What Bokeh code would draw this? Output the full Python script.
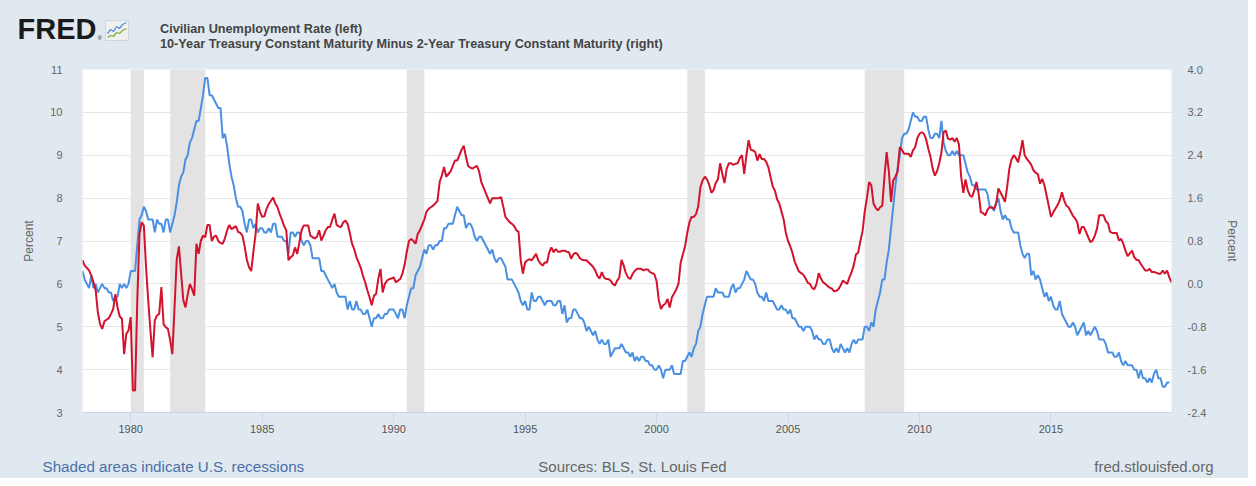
import numpy as np
from bokeh.plotting import figure
from bokeh.layouts import column
from bokeh.models import (Range1d, LinearAxis, FixedTicker, PrintfTickFormatter,
                          BoxAnnotation, Label, Legend, LegendItem)
from bokeh.embed import file_html
from bokeh.resources import INLINE

# ---------------- data (monthly, starting March 1978) ----------------
start_year, start_month = 1978, 3

# Civilian Unemployment Rate (%), Mar 1978 .. Jul 2019
unrate = [
    6.3, 6.1, 6.0, 5.9, 6.2, 5.9, 6.0, 5.8, 5.9, 6.0,                    # 1978
    5.9, 5.9, 5.8, 5.8, 5.6, 5.7, 5.7, 6.0, 5.9, 6.0, 5.9, 6.0,          # 1979
    6.3, 6.3, 6.3, 6.9, 7.5, 7.6, 7.8, 7.7, 7.5, 7.5, 7.5, 7.2,          # 1980
    7.5, 7.4, 7.4, 7.2, 7.5, 7.5, 7.2, 7.4, 7.6, 7.9, 8.3, 8.5,          # 1981
    8.6, 8.9, 9.0, 9.3, 9.4, 9.6, 9.8, 9.8, 10.1, 10.4, 10.8, 10.8,      # 1982
    10.4, 10.4, 10.3, 10.2, 10.1, 10.1, 9.4, 9.5, 9.2, 8.8, 8.5, 8.3,    # 1983
    8.0, 7.8, 7.8, 7.7, 7.4, 7.2, 7.5, 7.5, 7.3, 7.4, 7.2, 7.3,          # 1984
    7.3, 7.2, 7.2, 7.3, 7.2, 7.4, 7.4, 7.1, 7.1, 7.1, 7.0, 7.0,          # 1985
    6.7, 7.2, 7.2, 7.1, 7.2, 7.2, 7.0, 6.9, 7.0, 7.0, 6.9, 6.6,          # 1986
    6.6, 6.6, 6.6, 6.3, 6.3, 6.2, 6.1, 6.0, 5.9, 6.0, 5.8, 5.7,          # 1987
    5.7, 5.7, 5.7, 5.4, 5.6, 5.4, 5.4, 5.6, 5.4, 5.4, 5.3, 5.3,          # 1988
    5.4, 5.2, 5.0, 5.2, 5.2, 5.3, 5.2, 5.2, 5.3, 5.3, 5.4, 5.4,          # 1989
    5.4, 5.3, 5.2, 5.4, 5.4, 5.2, 5.5, 5.7, 5.9, 5.9, 6.2, 6.3,          # 1990
    6.4, 6.6, 6.8, 6.7, 6.9, 6.9, 6.8, 6.9, 6.9, 7.0, 7.0, 7.3,          # 1991
    7.3, 7.4, 7.4, 7.4, 7.6, 7.8, 7.7, 7.6, 7.6, 7.3, 7.4, 7.4,          # 1992
    7.3, 7.1, 7.0, 7.1, 7.1, 7.0, 6.9, 6.8, 6.7, 6.8, 6.6, 6.5,          # 1993
    6.6, 6.6, 6.5, 6.4, 6.1, 6.1, 6.1, 6.0, 5.9, 5.8, 5.6, 5.5,          # 1994
    5.6, 5.4, 5.4, 5.8, 5.6, 5.6, 5.7, 5.7, 5.6, 5.5, 5.6, 5.6,          # 1995
    5.6, 5.5, 5.5, 5.6, 5.6, 5.3, 5.5, 5.1, 5.2, 5.2, 5.4, 5.4,          # 1996
    5.3, 5.2, 5.2, 5.1, 4.9, 5.0, 4.9, 4.8, 4.9, 4.7, 4.6, 4.7,          # 1997
    4.6, 4.6, 4.7, 4.3, 4.4, 4.5, 4.5, 4.5, 4.6, 4.5, 4.4, 4.4,          # 1998
    4.3, 4.4, 4.2, 4.3, 4.2, 4.3, 4.3, 4.2, 4.2, 4.1, 4.1, 4.0,          # 1999
    4.0, 4.1, 4.0, 3.8, 4.0, 4.0, 4.0, 4.1, 3.9, 3.9, 3.9, 3.9,          # 2000
    4.2, 4.2, 4.3, 4.4, 4.3, 4.5, 4.6, 4.9, 5.0, 5.3, 5.5, 5.7,          # 2001
    5.7, 5.7, 5.7, 5.9, 5.8, 5.8, 5.8, 5.7, 5.7, 5.7, 5.9, 6.0,          # 2002
    5.8, 5.9, 5.9, 6.0, 6.1, 6.3, 6.2, 6.1, 6.1, 6.0, 5.8, 5.7,          # 2003
    5.7, 5.6, 5.8, 5.6, 5.6, 5.6, 5.5, 5.4, 5.4, 5.5, 5.4, 5.4,          # 2004
    5.3, 5.4, 5.2, 5.2, 5.1, 5.0, 5.0, 4.9, 5.0, 5.0, 5.0, 4.9,          # 2005
    4.7, 4.8, 4.7, 4.7, 4.6, 4.6, 4.7, 4.7, 4.5, 4.4, 4.5, 4.4,          # 2006
    4.6, 4.5, 4.4, 4.5, 4.4, 4.6, 4.7, 4.6, 4.7, 4.7, 4.7, 5.0,          # 2007
    5.0, 4.9, 5.1, 5.0, 5.4, 5.6, 5.8, 6.1, 6.1, 6.5, 6.8, 7.3,          # 2008
    7.8, 8.3, 8.7, 9.0, 9.4, 9.5, 9.5, 9.6, 9.8, 10.0, 9.9, 9.9,         # 2009
    9.8, 9.8, 9.9, 9.9, 9.6, 9.4, 9.4, 9.5, 9.5, 9.4, 9.8, 9.3,          # 2010
    9.1, 9.0, 9.0, 9.1, 9.0, 9.1, 9.0, 9.0, 9.0, 8.8, 8.6, 8.5,          # 2011
    8.3, 8.3, 8.2, 8.2, 8.2, 8.2, 8.2, 8.1, 7.8, 7.8, 7.7, 7.9,          # 2012
    8.0, 7.7, 7.5, 7.6, 7.5, 7.5, 7.3, 7.2, 7.2, 7.2, 6.9, 6.7,          # 2013
    6.6, 6.7, 6.7, 6.2, 6.3, 6.1, 6.2, 6.1, 5.9, 5.7, 5.8, 5.6,          # 2014
    5.7, 5.5, 5.4, 5.4, 5.6, 5.3, 5.2, 5.1, 5.0, 5.0, 5.1, 5.0,          # 2015
    4.8, 4.9, 5.0, 5.1, 4.8, 4.9, 4.8, 4.9, 5.0, 4.9, 4.7, 4.7,          # 2016
    4.7, 4.6, 4.4, 4.4, 4.4, 4.3, 4.3, 4.4, 4.2, 4.1, 4.2, 4.1,          # 2017
    4.1, 4.1, 4.0, 4.0, 3.8, 4.0, 3.8, 3.8, 3.7, 3.8, 3.7, 3.9,          # 2018
    4.0, 3.8, 3.8, 3.6, 3.6, 3.7, 3.7,                                   # 2019
]

# 10-Year minus 2-Year Treasury spread (%), Mar 1978 .. Aug 2019
spread = [
    0.44, 0.34, 0.30, 0.25, 0.16, 0.03, -0.12, -0.53, -0.75, -0.84,                 # 1978
    -0.70, -0.67, -0.64, -0.56, -0.47, -0.19, -0.44, -0.61, -0.65, -1.31, -0.93, -0.87,  # 1979
    -0.62, -1.99, -1.99, -0.31, 0.93, 1.15, 1.09, 0.31, -0.31, -0.87, -1.37, -0.68,  # 1980
    -0.59, -0.56, -0.06, -0.75, -0.81, -0.84, -1.05, -1.31, -0.45, 0.45, 0.70, 0.20,  # 1981
    -0.30, -0.44, -0.20, 0.00, -0.10, -0.22, 0.75, 0.56, 0.80, 0.90, 0.87, 1.10,    # 1982
    1.10, 0.80, 0.88, 0.90, 0.80, 0.76, 0.75, 0.85, 1.00, 1.10, 1.02, 1.05,         # 1983
    1.08, 0.97, 0.95, 0.90, 0.70, 0.45, 0.31, 0.24, 0.60, 0.93, 1.50, 1.35,         # 1984
    1.25, 1.26, 1.40, 1.49, 1.55, 1.61, 1.50, 1.43, 1.30, 1.20, 1.08, 1.00,         # 1985
    0.44, 0.50, 0.53, 0.68, 0.56, 0.78, 1.00, 1.09, 1.09, 1.09, 0.90, 0.87,         # 1986
    0.85, 0.88, 1.00, 0.81, 0.90, 1.00, 1.06, 1.06, 1.20, 1.31, 1.10, 1.07,         # 1987
    1.06, 1.15, 1.18, 1.12, 0.95, 0.75, 0.65, 0.50, 0.40, 0.30, 0.15, 0.03,         # 1988
    -0.12, -0.25, -0.40, -0.22, -0.19, 0.10, 0.28, -0.16, 0.00, 0.06, 0.09, 0.10,   # 1989
    0.12, 0.03, 0.06, 0.09, 0.19, 0.35, 0.60, 0.80, 0.84, 0.80, 0.75, 0.93,         # 1990
    1.00, 1.10, 1.20, 1.35, 1.40, 1.43, 1.46, 1.50, 1.55, 1.90, 2.02, 2.18,         # 1991
    2.00, 2.05, 2.10, 2.20, 2.30, 2.30, 2.40, 2.50, 2.58, 2.37, 2.20, 2.17,         # 1992
    2.15, 2.18, 2.20, 2.10, 1.90, 1.80, 1.70, 1.60, 1.50, 1.60, 1.60, 1.60,         # 1993
    1.60, 1.62, 1.45, 1.25, 1.20, 1.15, 1.12, 1.08, 1.00, 0.97, 0.44, 0.19,         # 1994
    0.40, 0.44, 0.46, 0.44, 0.50, 0.56, 0.44, 0.38, 0.34, 0.40, 0.40, 0.59,         # 1995
    0.68, 0.59, 0.65, 0.60, 0.60, 0.62, 0.62, 0.60, 0.59, 0.47, 0.55, 0.58,         # 1996
    0.55, 0.48, 0.45, 0.44, 0.44, 0.40, 0.36, 0.32, 0.25, 0.15, 0.10, 0.22,         # 1997
    0.12, 0.09, 0.09, 0.06, 0.00, -0.03, 0.06, 0.12, 0.45, 0.34, 0.20, 0.12,        # 1998
    0.09, 0.18, 0.24, 0.28, 0.28, 0.28, 0.25, 0.27, 0.27, 0.22, 0.20, 0.18,         # 1999
    0.05, -0.30, -0.47, -0.40, -0.37, -0.28, -0.44, -0.25, -0.18, -0.10, 0.00, 0.40,  # 2000
    0.55, 0.70, 0.95, 1.15, 1.25, 1.25, 1.30, 1.45, 1.80, 1.93, 2.00, 1.95,         # 2001
    1.85, 1.70, 1.75, 1.88, 1.95, 2.25, 2.05, 1.88, 2.15, 2.25, 2.25, 2.22,         # 2002
    2.24, 2.25, 2.35, 2.40, 2.05, 2.40, 2.68, 2.50, 2.49, 2.46, 2.30, 2.42,         # 2003
    2.33, 2.33, 2.28, 2.18, 2.00, 1.82, 1.74, 1.58, 1.50, 1.35, 1.20, 0.95,         # 2004
    0.80, 0.70, 0.58, 0.42, 0.32, 0.23, 0.20, 0.17, 0.10, 0.02, 0.00, -0.08,        # 2005
    -0.10, 0.00, 0.20, 0.10, 0.03, 0.00, -0.04, -0.07, -0.09, -0.14, -0.13, -0.10,  # 2006
    -0.03, 0.06, 0.03, 0.00, 0.12, 0.22, 0.35, 0.55, 0.58, 0.80, 0.98, 1.35,        # 2007
    1.60, 1.90, 1.84, 1.50, 1.42, 1.37, 1.43, 1.46, 2.00, 2.46, 2.10, 1.53,         # 2008
    1.93, 2.00, 2.10, 2.55, 2.50, 2.43, 2.43, 2.43, 2.37, 2.49, 2.55, 2.72,         # 2009
    2.80, 2.83, 2.80, 2.70, 2.52, 2.37, 2.15, 2.02, 2.10, 2.25, 2.45, 2.83,         # 2010
    2.86, 2.71, 2.69, 2.72, 2.65, 2.72, 2.60, 2.00, 1.70, 1.95, 1.75, 1.65,         # 2011
    1.62, 1.75, 1.90, 1.68, 1.34, 1.32, 1.28, 1.38, 1.43, 1.42, 1.40, 1.50,         # 2012
    1.78, 1.70, 1.62, 1.53, 1.81, 2.15, 2.32, 2.40, 2.35, 2.27, 2.45, 2.68,         # 2013
    2.40, 2.33, 2.28, 2.22, 2.12, 2.07, 2.05, 1.87, 1.96, 1.84, 1.65, 1.45,         # 2014
    1.25, 1.33, 1.40, 1.47, 1.56, 1.71, 1.56, 1.46, 1.43, 1.35, 1.27, 1.22,         # 2015
    1.15, 0.93, 1.06, 1.06, 0.97, 0.87, 0.78, 0.81, 0.90, 1.03, 1.28, 1.28,         # 2016
    1.28, 1.17, 1.13, 0.97, 0.95, 0.95, 0.95, 0.81, 0.84, 0.75, 0.62, 0.52,         # 2017
    0.57, 0.62, 0.50, 0.45, 0.44, 0.37, 0.31, 0.25, 0.25, 0.28, 0.22, 0.22,         # 2018
    0.21, 0.19, 0.19, 0.25, 0.19, 0.25, 0.12, 0.03,                                 # 2019
]

rec_start = ["1980-01", "1981-07", "1990-07", "2001-03", "2007-12"]
rec_end = ["1980-07", "1982-11", "1991-03", "2001-11", "2009-06"]

x_ticks = [1980, 1985, 1990, 1995, 2000, 2005, 2010, 2015]
left_ticks = [3, 4, 5, 6, 7, 8, 9, 10, 11]
right_ticks = [-2.4, -1.6, -0.8, 0.0, 0.8, 1.6, 2.4, 3.2, 4.0]

series_names = ["Civilian Unemployment Rate (left)",
                "10-Year Treasury Constant Maturity Minus 2-Year Treasury Constant Maturity (right)"]
footer_left = "Shaded areas indicate U.S. recessions"
footer_mid = "Sources: BLS, St. Louis Fed"
footer_right = "fred.stlouisfed.org"

# ---------------- helpers ----------------
def ym(s):
    y, m = s.split("-")
    return int(y) + (int(m) - 1) / 12.0

t_u = start_year + (start_month - 1 + np.arange(len(unrate))) / 12.0
t_s = start_year + (start_month - 1 + np.arange(len(spread))) / 12.0

FONT = "Liberation Sans"
BLUE = "#4a90e2"
RED = "#d3122c"
BG = "#e1e9f0"
TXT = "#666666"
W = 1248
H_HEAD, H_MAIN, H_FOOT = 59, 393, 26


def strip(h):
    f = figure(width=W, height=h, output_backend="svg", toolbar_location=None,
               x_range=Range1d(0, W), y_range=Range1d(0, h),
               x_axis_location=None, y_axis_location=None,
               min_border_left=0, min_border_right=0, min_border_top=0, min_border_bottom=0,
               background_fill_color=BG, border_fill_color=BG, outline_line_color=None,
               frame_align=False)
    f.xgrid.grid_line_color = None
    f.ygrid.grid_line_color = None
    return f

# ---------------- header: logo + legend ----------------
head = strip(H_HEAD)
head.add_layout(Label(x=17, y=31, x_units="screen", y_units="screen", text="FRED",
                      text_font=FONT, text_font_size="29px", text_font_style="bold",
                      text_color="#1a1a1a", text_baseline="alphabetic"))
head.add_layout(Label(x=97, y=22, x_units="screen", y_units="screen", text="®",
                      text_font=FONT, text_font_size="6px",
                      text_color="#1a1a1a", text_baseline="alphabetic"))
# small graph icon of the logo
head.quad(left=[105], right=[128], bottom=[19], top=[39], fill_color="#f0f0f0",
          line_color="#d4d4d4")
head.line([107, 110, 113, 116, 119, 122, 126], [26, 30, 28, 33, 31, 35, 37],
          line_color="#5b8fd6", line_width=1.3)
head.line([107, 110, 113, 116, 119, 122, 126], [22, 24, 23, 27, 26, 29, 31],
          line_color="#7fae3c", line_width=1.3)
leg_u = head.line([], [], line_color=BLUE, line_width=2)
leg_s = head.line([], [], line_color=RED, line_width=2)
legend = Legend(items=[LegendItem(label=series_names[0], renderers=[leg_u]),
                       LegendItem(label=series_names[1], renderers=[leg_s])],
                location=(138, 8), orientation="vertical",
                padding=0, margin=0, spacing=0,
                glyph_width=17, glyph_height=15, label_height=15, label_standoff=5,
                background_fill_alpha=0, border_line_color=None,
                label_text_font=FONT, label_text_font_size="12.7px",
                label_text_font_style="bold", label_text_color="#444444")
head.add_layout(legend)

# ---------------- main chart ----------------
p = figure(width=W, height=H_MAIN, output_backend="svg", toolbar_location=None,
           x_range=Range1d(t_s[0], t_s[-1]), y_range=Range1d(left_ticks[0], left_ticks[-1]),
           min_border_left=82, min_border_right=77, min_border_top=10, min_border_bottom=40,
           background_fill_color="white", border_fill_color=BG, outline_line_color=None,
           frame_align=False)
p.extra_y_ranges = {"right": Range1d(right_ticks[0], right_ticks[-1])}

for a, b in zip(rec_start, rec_end):
    p.add_layout(BoxAnnotation(left=ym(a), right=ym(b), fill_color="#e3e3e3",
                               fill_alpha=1.0, line_color=None, level="underlay"))

p.xgrid.grid_line_color = None
p.ygrid.grid_line_color = "#e6e6e6"
p.ygrid.grid_line_width = 1

p.line(t_u, unrate, line_color=BLUE, line_width=2)
p.line(t_s, spread, line_color=RED, line_width=2, y_range_name="right")

xa = p.xaxis[0]
xa.ticker = FixedTicker(ticks=x_ticks)
xa.minor_tick_line_color = None
xa.major_tick_in = 0
xa.major_tick_out = 10
xa.major_tick_line_color = "#ccd6eb"
xa.axis_line_color = "#ccd6eb"
xa.major_label_standoff = 2
xa.major_label_text_font = FONT
xa.major_label_text_font_size = "11px"
xa.major_label_text_color = "#555555"

ya = p.yaxis[0]
ya.ticker = FixedTicker(ticks=left_ticks)
ya.minor_tick_line_color = None
ya.major_tick_line_color = None
ya.major_tick_in = 0
ya.major_tick_out = 0
ya.axis_line_color = None
ya.major_label_standoff = 20
ya.major_label_text_font = FONT
ya.major_label_text_font_size = "11px"
ya.major_label_text_color = TXT
ya.axis_label = "Percent"
ya.axis_label_text_font = FONT
ya.axis_label_text_font_size = "12px"
ya.axis_label_text_font_style = "normal"
ya.axis_label_text_color = TXT
ya.axis_label_standoff = 11

ra = LinearAxis(y_range_name="right", ticker=FixedTicker(ticks=right_ticks),
                formatter=PrintfTickFormatter(format="%.1f"))
ra.minor_tick_line_color = None
ra.major_tick_line_color = None
ra.major_tick_in = 0
ra.major_tick_out = 0
ra.axis_line_color = None
ra.major_label_standoff = 16
ra.major_label_text_font = FONT
ra.major_label_text_font_size = "11px"
ra.major_label_text_color = TXT
ra.axis_label = "Percent"
ra.axis_label_text_font = FONT
ra.axis_label_text_font_size = "12px"
ra.axis_label_text_font_style = "normal"
ra.axis_label_text_color = TXT
ra.axis_label_standoff = 16
p.add_layout(ra, "right")

# ---------------- footer ----------------
foot = strip(H_FOOT)
foot.add_layout(Label(x=42, y=12, x_units="screen", y_units="screen", text=footer_left,
                      text_font=FONT, text_font_size="15.2px", text_color="#4a6fa8",
                      text_baseline="alphabetic", text_align="left"))
foot.add_layout(Label(x=632, y=12, x_units="screen", y_units="screen", text=footer_mid,
                      text_font=FONT, text_font_size="15px", text_color=TXT,
                      text_baseline="alphabetic", text_align="center"))
foot.add_layout(Label(x=1213, y=12, x_units="screen", y_units="screen", text=footer_right,
                      text_font=FONT, text_font_size="15px", text_color=TXT,
                      text_baseline="alphabetic", text_align="right"))

layout = column(head, p, foot, spacing=0, styles={"background-color": BG})
open("out.html", "w").write(file_html(layout, INLINE))
